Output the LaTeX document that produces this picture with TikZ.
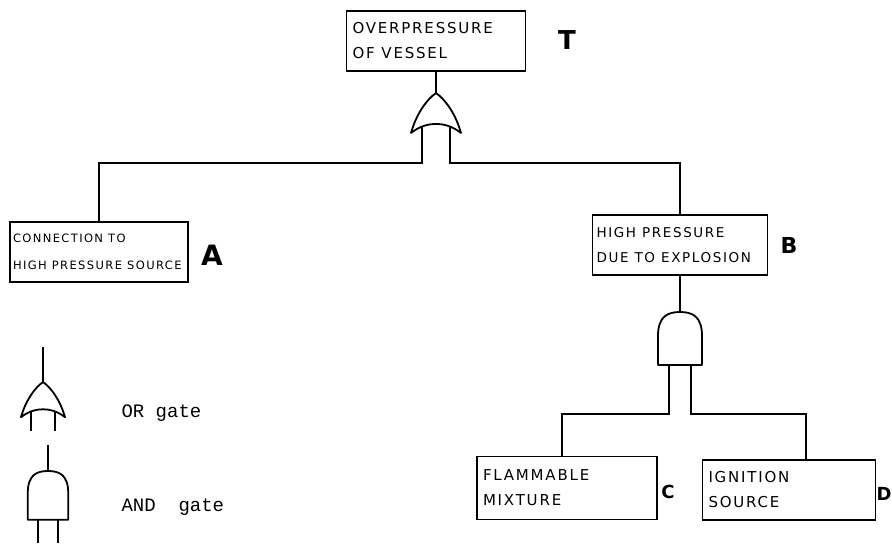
\documentclass[tikz,border=0pt]{standalone}
\usepackage{fontspec}
\usepackage{tikz}
\usetikzlibrary{positioning, calc}

\newfontfamily\handfont[LetterSpace=12]{DejaVu Sans}
\newfontfamily\typefont{Liberation Mono}
\newcommand\gap{\hspace{0.45em}}

\tikzset{
    orgate/.pic={
        \draw[gateline] (0,0) .. controls (-10,7) and (-20,22) .. (-25,40)
            .. controls (-16,33) and (-8,31) .. (0,31)
            .. controls (8,31) and (16,33) .. (25,40)
            .. controls (20,22) and (10,7) .. (0,0) -- cycle;
        \draw[gateline] (-14,33) -- (-14,56) (14,33) -- (14,56);
        \coordinate (-out) at (0,0);
        \coordinate (-in1) at (-14,56);
        \coordinate (-in2) at (14,56);
    },
    andgate/.pic={
        \draw[gateline] (-22,53) -- (-22,24) .. controls (-22,4) and (-12,0) .. (0,0)
            .. controls (12,0) and (22,4) .. (22,24) -- (22,53) -- cycle;
        \draw[gateline] (-11,53) -- (-11,78) (11,53) -- (11,78);
        \coordinate (-out) at (0,0);
        \coordinate (-in1) at (-11,78);
        \coordinate (-in2) at (11,78);
    },
}

\begin{document}
\begin{tikzpicture}[
    x=1pt, y=-1pt,
    gateline/.style={line width=1.8pt, line join=round},
    wire/.style={line width=1.8pt},
    event/.style={rectangle, draw, line width=1.6pt, minimum height=60pt, text width=165pt, align=left, inner xsep=6pt, font=\handfont\fontsize{15}{25}\selectfont},
    tag/.style={font=\handfont\bfseries\fontsize{26}{26}\selectfont},
    legend/.style={font=\typefont\fontsize{19}{19}\selectfont, anchor=west},
]
    \useasboundingbox (0,0) rectangle (892,546);

    % top event
    \node[event, text width=167pt] (T) at (436,41) {OVERPRESSURE\\OF\gap VESSEL};
    \node[tag] (tT) at (567,40) {T};
    \pic (gT) at (436,93) {orgate};

    % intermediate events
    \node[event, font=\handfont\fontsize{11.5}{27}\selectfont, inner xsep=3pt, text width=172pt] (A) at (99,252) {CONNECTION\gap TO\\HIGH\gap PRESSURE\gap SOURCE};
    \node[tag, font=\handfont\bfseries\fontsize{28}{28}\selectfont] (tA) at (212,255) {A};
    \node[event, font=\handfont\fontsize{13.5}{25}\selectfont, inner xsep=4pt, text width=167pt] (B) at (680,245) {HIGH\gap PRESSURE\\DUE\gap TO\gap EXPLOSION};
    \node[tag, font=\handfont\bfseries\fontsize{22}{22}\selectfont] (tB) at (789,245) {B};
    \pic (gB) at (680,312) {andgate};

    % basic events
    \node[event, text width=168pt, minimum height=63pt] (C) at (567,488) {FLAMMABLE\\MIXTURE};
    \node[tag, font=\handfont\bfseries\fontsize{18}{18}\selectfont] (tC) at (668,492) {C};
    \node[event, text width=161pt] (D) at (789,490) {IGNITION\\SOURCE};
    \node[tag, font=\handfont\bfseries\fontsize{18}{18}\selectfont] (tD) at (884,494) {D};

    % tree links
    \draw[wire] (T.south) -- (gT-out);
    \draw[wire] (gT-in1) -- ++(0,14) -| (A.north);
    \draw[wire] (gT-in2) -- ++(0,14) -| (B.north);
    \draw[wire] (B.south) -- (gB-out);
    \draw[wire] (gB-in1) -- ++(0,24) -| ([xshift=-5pt]C.north);
    \draw[wire] (gB-in2) -- ++(0,24) -| ([xshift=17pt]D.north);

    % legend
    \coordinate (orTop) at (43,347);
    \pic[scale=0.88] (gOR) at (43,382) {orgate};
    \draw[wire] (orTop) -- (gOR-out);
    \node[legend] (lOR) at (118,413) {OR gate};

    \coordinate (andTop) at (48,445);
    \pic[scale=0.92] (gAND) at (48,471) {andgate};
    \draw[wire] (andTop) -- (gAND-out);
    \node[legend] (lAND) at (118,507) {AND\ \ gate};
\end{tikzpicture}
\end{document}
